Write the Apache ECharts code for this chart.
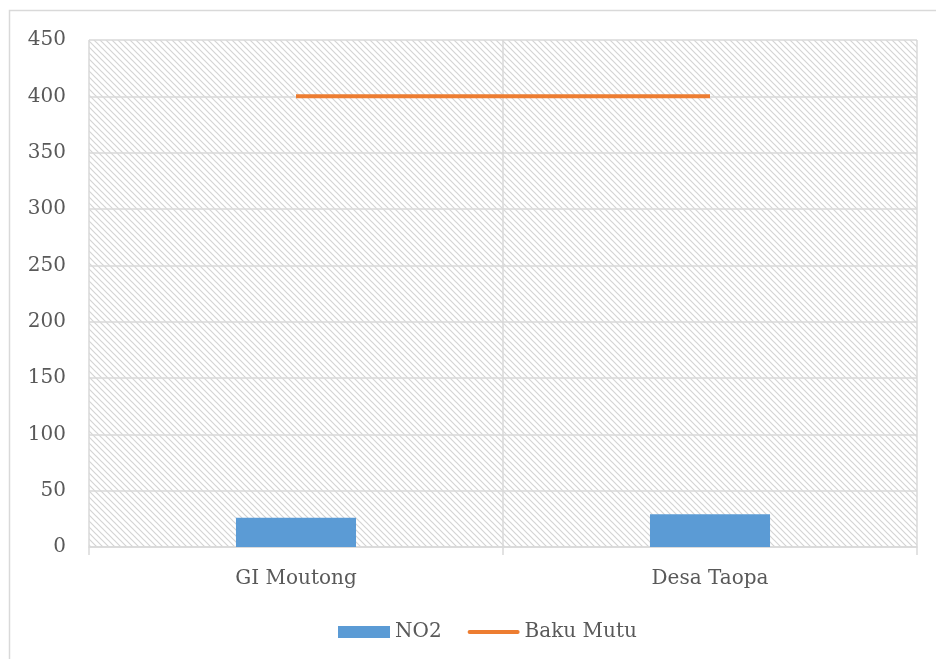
<!DOCTYPE html>
<html><head><meta charset="utf-8">
<script src="https://cdn.jsdelivr.net/npm/echarts@6/dist/echarts.min.js"></script>
<style>html,body{margin:0;padding:0;background:#fff}#c{width:936px;height:659px}</style>
</head><body><div id="c"></div>
<script>
var categories = ['GI Moutong', 'Desa Taopa'];
var no2 = [26, 29];
var bakuMutu = [400, 400];
var yTicks = [0, 50, 100, 150, 200, 250, 300, 350, 400, 450];

var pc = document.createElement('canvas');
pc.width = 6; pc.height = 6;
var ctx = pc.getContext('2d');
ctx.fillStyle = '#ffffff'; ctx.fillRect(0,0,6,6);
ctx.strokeStyle = '#d4d4d4'; ctx.lineWidth = 1.2;
ctx.beginPath();
ctx.moveTo(0,0); ctx.lineTo(6,6);
ctx.moveTo(-3,3); ctx.lineTo(3,9);
ctx.moveTo(3,-3); ctx.lineTo(9,3);
ctx.stroke();

var font = '"DejaVu Serif", serif';
var chart = echarts.init(document.getElementById('c'), null, {renderer:'canvas'});
chart.setOption({
  animation: false,
  textStyle: {fontFamily: font},
  graphic: [{type:'rect', shape:{x:9.5,y:10.5,width:940,height:660}, style:{fill:'none', stroke:'#d9d9d9', lineWidth:1.5}, silent:true}],
  grid: {left: 89, right: 19, top: 40, bottom: 112, show: true, backgroundColor: {image: pc, repeat: 'repeat'}, borderWidth: 0},
  legend: {bottom: 12, left: 333, itemGap: 26, itemWidth: 52, itemHeight: 12,
    textStyle: {color:'#595959', fontSize: 20, fontFamily: font},
    data: [{name:'NO2', icon:'rect'}, {name:'Baku Mutu', icon:'path://M2,0 L50,0 A2,2 0 0 1 50,4 L2,4 A2,2 0 0 1 2,0 Z', itemStyle:{color:'#ED7D31'}}]},
  xAxis: {type:'category', data: categories, boundaryGap: true,
    axisLine: {lineStyle:{color:'#d9d9d9', width:1.5}},
    axisTick: {show:true, length: 8, lineStyle:{color:'#d9d9d9', width:1.5}},
    splitLine: {show:true, lineStyle:{color:'#d9d9d9', width:1.5}},
    axisLabel: {color:'#595959', fontSize: 20, margin: 22, fontFamily: font}},
  yAxis: {type:'value', min: 0, max: 450, interval: 50,
    axisLine: {show:false}, axisTick:{show:false},
    splitLine: {lineStyle:{color:'#d9d9d9', width:1.5}},
    axisLabel: {color:'#595959', fontSize: 20, margin: 23, fontFamily: font,
      formatter: function(v){ return yTicks.indexOf(v) >= 0 ? String(v) : ''; }}},
  series: [
    {name:'NO2', type:'bar', data: no2, barWidth: '29%', itemStyle:{color:'#5B9BD5'}},
    {name:'Baku Mutu', type:'line', data: bakuMutu, symbol:'none', lineStyle:{color:'#ED7D31', width:4}, itemStyle:{color:'#ED7D31'}}
  ]
});
</script></body></html>
